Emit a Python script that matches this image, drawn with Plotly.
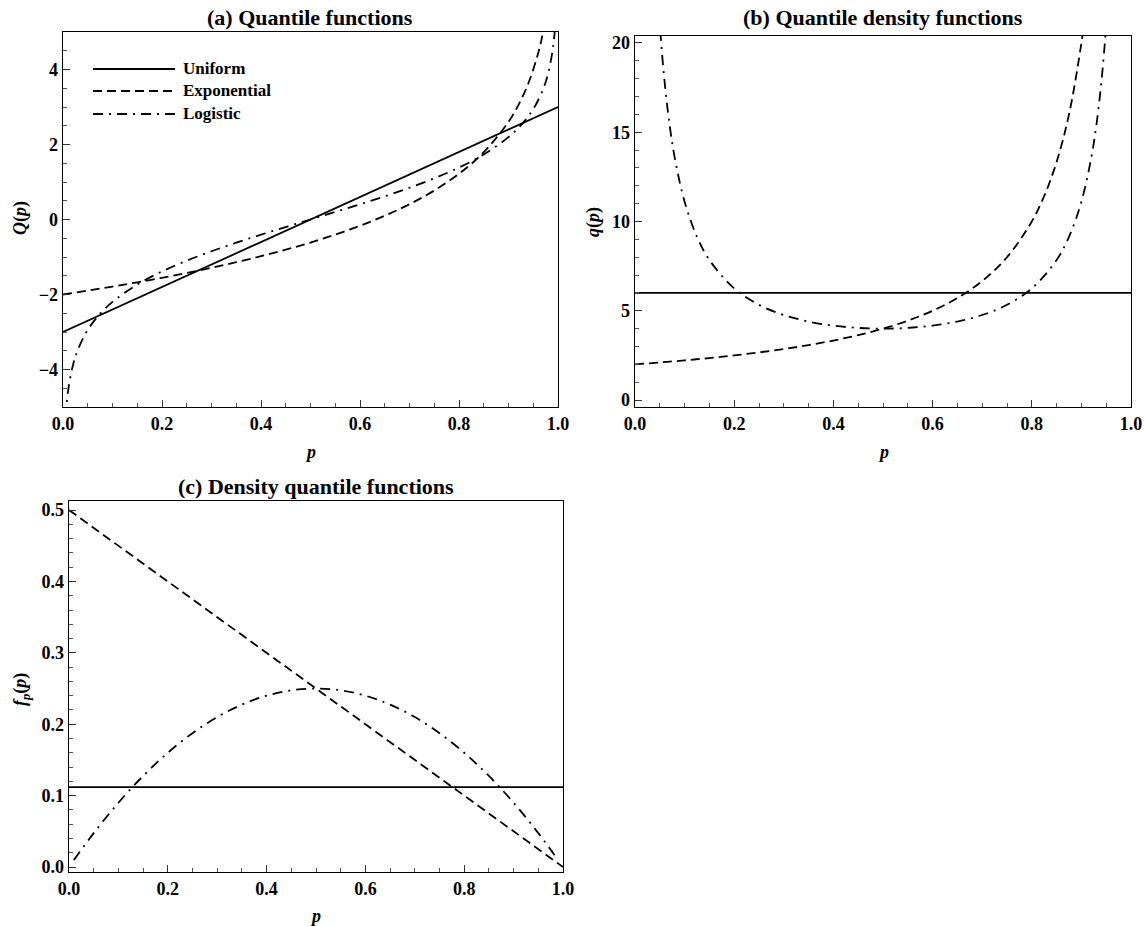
import plotly.graph_objects as go

# ---------------- data ----------------
# Panel (a): quantile functions Q(p)
p_unif = [0.0, 1.0]
Q_unif = [-3.0, 3.0]

p_exp_a = [0.0, 0.05, 0.1, 0.15, 0.2, 0.25, 0.3, 0.35, 0.4, 0.45, 0.5, 0.55, 0.6,
           0.65, 0.7, 0.75, 0.8, 0.85, 0.9, 0.92, 0.94, 0.96, 0.97, 0.98]
Q_exp = [-2.0, -1.897, -1.789, -1.675, -1.554, -1.425, -1.287, -1.138, -0.978, -0.804,
         -0.614, -0.403, -0.167, 0.100, 0.408, 0.773, 1.219, 1.794, 2.605, 3.051,
         3.627, 4.438, 5.013, 5.824]

p_log_a = [0.005, 0.01, 0.02, 0.03, 0.05, 0.075, 0.1, 0.15, 0.2, 0.25, 0.3, 0.35, 0.4,
           0.45, 0.5, 0.55, 0.6, 0.65, 0.7, 0.75, 0.8, 0.85, 0.9, 0.925, 0.95, 0.97,
           0.98, 0.99, 0.995]
Q_log = [-5.293, -4.595, -3.892, -3.476, -2.944, -2.512, -2.197, -1.735, -1.386, -1.099,
         -0.847, -0.619, -0.405, -0.201, 0.0, 0.201, 0.405, 0.619, 0.847, 1.099, 1.386,
         1.735, 2.197, 2.512, 2.944, 3.476, 3.892, 4.595, 5.293]

# Panel (b): quantile density functions q(p)
q_unif = [6.0, 6.0]

p_exp_b = [0.0, 0.05, 0.1, 0.15, 0.2, 0.25, 0.3, 0.35, 0.4, 0.45, 0.5, 0.55, 0.6, 0.65,
           0.7, 0.75, 0.8, 0.825, 0.85, 0.875, 0.9, 0.91, 0.92]
q_exp = [2.0, 2.105, 2.222, 2.353, 2.5, 2.667, 2.857, 3.077, 3.333, 3.636, 4.0, 4.444,
         5.0, 5.714, 6.667, 8.0, 10.0, 11.429, 13.333, 16.0, 20.0, 22.222, 25.0]

p_log_b = [0.04, 0.05, 0.06, 0.07, 0.08, 0.1, 0.125, 0.15, 0.2, 0.25, 0.3, 0.35, 0.4,
           0.45, 0.5, 0.55, 0.6, 0.65, 0.7, 0.75, 0.8, 0.85, 0.875, 0.9, 0.92, 0.93,
           0.94, 0.95, 0.96]
q_log = [26.042, 21.053, 17.731, 15.361, 13.587, 11.111, 9.143, 7.843, 6.25, 5.333,
         4.762, 4.396, 4.167, 4.040, 4.0, 4.040, 4.167, 4.396, 4.762, 5.333, 6.25,
         7.843, 9.143, 11.111, 13.587, 15.361, 17.731, 21.053, 26.042]

# Panel (c): density quantile functions f_p(p)
f_unif = [0.112, 0.112]

p_exp_c = [0.0, 1.0]
f_exp = [0.5, 0.0]

p_log_c = [0.01, 0.05, 0.1, 0.15, 0.2, 0.25, 0.3, 0.35, 0.4, 0.45, 0.5, 0.55, 0.6,
           0.65, 0.7, 0.75, 0.8, 0.85, 0.9, 0.95, 0.99]
f_log = [0.0099, 0.0475, 0.09, 0.1275, 0.16, 0.1875, 0.21, 0.2275, 0.24, 0.2475, 0.25,
         0.2475, 0.24, 0.2275, 0.21, 0.1875, 0.16, 0.1275, 0.09, 0.0475, 0.0099]

x_tickvals = [0.0, 0.2, 0.4, 0.6, 0.8, 1.0]
x_ticktext = ["0.0", "0.2", "0.4", "0.6", "0.8", "1.0"]
ya_tickvals = [-4, -2, 0, 2, 4]
ya_ticktext = ["\u22124", "\u22122", "0", "2", "4"]
yb_tickvals = [0, 5, 10, 15, 20]
yb_ticktext = ["0", "5", "10", "15", "20"]
yc_tickvals = [0.0, 0.1, 0.2, 0.3, 0.4, 0.5]
yc_ticktext = ["0.0", "0.1", "0.2", "0.3", "0.4", "0.5"]

series_names = ["Uniform", "Exponential", "Logistic"]
titles = ["(a) Quantile functions", "(b) Quantile density functions",
          "(c) Density quantile functions"]

# ---------------- styling ----------------
SERIF = "Liberation Serif"
LW = 1.8
DASH_EXP = "9px,5px"
DASH_LOG = "10px,6px,2px,6px"
styles = [dict(color="black", width=LW, dash="solid"),
          dict(color="black", width=LW, dash=DASH_EXP),
          dict(color="black", width=LW, dash=DASH_LOG)]

W, H = 1144, 926


def px_x(v):
    return v / W


def px_y(v):
    return 1 - v / H


fig = go.Figure()

panels = [
    ("x", "y", [(p_unif, Q_unif), (p_exp_a, Q_exp), (p_log_a, Q_log)]),
    ("x2", "y2", [(p_unif, q_unif), (p_exp_b, q_exp), (p_log_b, q_log)]),
    ("x3", "y3", [(p_unif, f_unif), (p_exp_c, f_exp), (p_log_c, f_log)]),
]
for xa, ya, series in panels:
    for name, (xs, ys), st in zip(series_names, series, styles):
        fig.add_trace(go.Scatter(x=xs, y=ys, mode="lines", name=name, xaxis=xa, yaxis=ya,
                                 line=dict(color=st["color"], width=st["width"],
                                           dash=st["dash"], shape="spline"),
                                 showlegend=False, hoverinfo="skip"))


def axis(domain, rng, tv, tt, minor_dtick, anchor):
    return dict(domain=domain, range=rng, tickmode="array", tickvals=tv, ticktext=tt,
                ticks="inside", ticklen=7, tickwidth=1, tickcolor="#333",
                showline=True, linecolor="black", linewidth=1.3, mirror=True,
                showgrid=False, zeroline=False, anchor=anchor, automargin=False,
                tickfont=dict(family=SERIF, size=18, color="black", weight="bold"),
                minor=dict(ticks="inside", ticklen=4, tickwidth=1, tickcolor="#555",
                           tickmode="linear", tick0=0, dtick=minor_dtick, showgrid=False))


dom_a_x = [px_x(63), px_x(558)]
dom_a_y = [px_y(407), px_y(32)]
dom_b_x = [px_x(635), px_x(1131)]
dom_b_y = [px_y(407), px_y(36)]
dom_c_x = [px_x(69), px_x(563)]
dom_c_y = [px_y(872), px_y(501)]

fig.update_layout(
    width=W, height=H, margin=dict(l=0, r=0, t=0, b=0, autoexpand=False),
    paper_bgcolor="white", plot_bgcolor="white", showlegend=False,
    font=dict(family=SERIF, color="black"),
    xaxis=axis(dom_a_x, [0, 1], x_tickvals, x_ticktext, 0.05, "y"),
    yaxis=axis(dom_a_y, [-5, 5], ya_tickvals, ya_ticktext, 0.5, "x"),
    xaxis2=axis(dom_b_x, [0, 1], x_tickvals, x_ticktext, 0.05, "y2"),
    yaxis2=axis(dom_b_y, [-0.39, 20.39], yb_tickvals, yb_ticktext, 1, "x2"),
    xaxis3=axis(dom_c_x, [0, 1], x_tickvals, x_ticktext, 0.05, "y3"),
    yaxis3=axis(dom_c_y, [-0.007, 0.5127], yc_tickvals, yc_ticktext, 0.02, "x3"),
)

ann = []
# Panel titles
for t, cx, cy in zip(titles, [310, 883, 316], [17, 17, 486]):
    ann.append(dict(text="<b>%s</b>" % t, x=px_x(cx), y=px_y(cy), xref="paper",
                    yref="paper", showarrow=False, xanchor="center", yanchor="middle",
                    font=dict(family=SERIF, size=22, color="black")))
# Axis titles
axfont = dict(family=SERIF, size=18, color="black")
for txt, cx, cy, rot in [
    ("<b><i>Q</i>(<i>p</i>)</b>", 21, 218, -90),
    ("<b><i>q</i>(<i>p</i>)</b>", 594, 222, -90),
    ("<b><i>f<sub>p</sub></i>(<i>p</i>)</b>", 21, 690, -90),
    ("<b><i>p</i></b>", 310, 452, 0),
    ("<b><i>p</i></b>", 883, 452, 0),
    ("<b><i>p</i></b>", 316, 916, 0),
]:
    ann.append(dict(text=txt, x=px_x(cx), y=px_y(cy), xref="paper", yref="paper",
                    showarrow=False, xanchor="center", yanchor="middle",
                    textangle=rot, font=axfont))

# Legend inside panel (a)
shapes = []
leg_rows = [69, 91, 114]
for name, st, ry in zip(series_names, styles, leg_rows):
    yd = 1 - (ry - 32) / 375
    shapes.append(dict(type="line", xref="x domain", yref="y domain",
                       x0=(93 - 63) / 495, x1=(175 - 63) / 495, y0=yd, y1=yd,
                       line=dict(color="black", width=LW, dash=st["dash"])))
    ann.append(dict(text="<b>%s</b>" % name, x=(181 - 63) / 495, y=yd,
                    xref="x domain", yref="y domain", showarrow=False,
                    xanchor="left", yanchor="middle",
                    font=dict(family=SERIF, size=17, color="black")))

fig.update_layout(annotations=ann, shapes=shapes)

fig.write_html("out.html",
               config={"displayModeBar": False, "staticPlot": True},
               post_script="document.body.style.margin='0px';"
                           "document.body.style.overflow='hidden';")
